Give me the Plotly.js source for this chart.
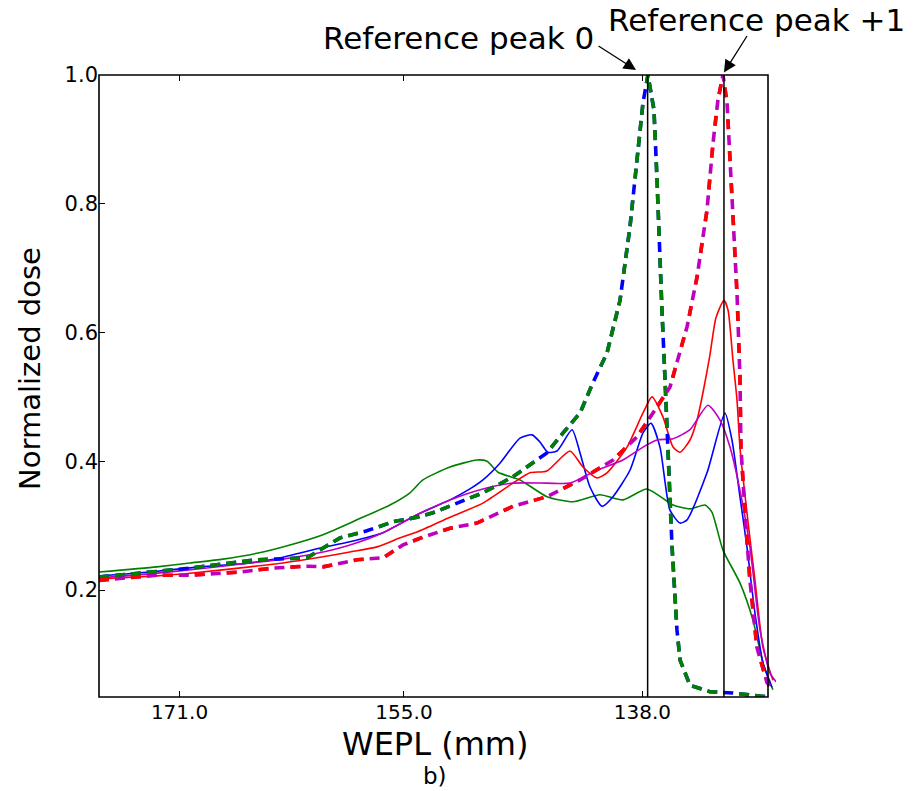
<!DOCTYPE html>
<html>
<head>
<meta charset="utf-8">
<script src="https://cdn.plot.ly/plotly-3.0.1.min.js"></script>
<style>html,body{margin:0;padding:0;background:#fff;}#chart{width:916px;height:791px;}</style>
</head>
<body>
<div id="chart"></div>
<script>
// ---- Data (WEPL in mm, normalized dose) ----
// Thin green solid
const greenSolidWepl = [176.74,172.61,170.25,167.90,165.48,163.13,160.77,158.35,156.00,154.57,153.65,151.72,149.80,149.08,148.30,146.73,144.81,142.95,141.03,139.39,137.68,135.82,134.61,133.54,133.05,132.26,131.05,130.12,129.41,128.70];
const greenSolidDose = [0.228,0.236,0.242,0.248,0.257,0.270,0.286,0.309,0.332,0.351,0.371,0.391,0.402,0.400,0.383,0.371,0.345,0.337,0.348,0.340,0.357,0.332,0.326,0.332,0.321,0.262,0.211,0.153,0.087,0.045];
// Thin blue solid
const blueSolidWepl = [176.74,173.10,169.54,165.98,163.63,161.20,158.85,156.50,154.07,151.72,150.30,149.37,148.16,146.73,145.87,145.31,144.74,144.09,143.02,142.45,141.74,140.88,140.10,138.89,137.96,137.39,136.75,136.04,135.32,134.82,133.40,132.12,131.62,131.05,130.55,129.98,129.41,128.77];
const blueSolidDose = [0.222,0.228,0.236,0.242,0.251,0.264,0.275,0.289,0.317,0.340,0.357,0.371,0.397,0.436,0.441,0.430,0.414,0.416,0.449,0.413,0.360,0.330,0.345,0.386,0.444,0.459,0.422,0.324,0.304,0.309,0.382,0.475,0.433,0.345,0.267,0.164,0.087,0.049];
// Thin magenta solid
const magentaSolidWepl = [176.74,173.10,169.54,165.98,163.63,161.20,158.85,156.50,154.07,151.72,149.37,147.23,144.81,143.17,141.24,139.39,137.96,136.97,135.82,134.61,133.33,132.47,131.76,131.05,130.34,129.62,128.91,128.41];
const magentaSolidDose = [0.219,0.225,0.233,0.242,0.248,0.257,0.270,0.289,0.317,0.340,0.357,0.366,0.366,0.366,0.386,0.402,0.422,0.433,0.435,0.449,0.487,0.464,0.422,0.355,0.267,0.138,0.071,0.056];
// Thin red solid
const redSolidWepl = [176.74,172.61,170.25,165.98,163.63,161.20,158.85,156.92,155.28,154.07,151.72,149.37,147.23,146.02,144.81,143.17,142.24,141.24,140.53,139.10,137.96,137.32,136.54,135.82,135.32,134.61,134.11,133.69,133.19,132.76,132.19,131.90,131.55,131.26,131.05,130.55,129.98,129.41,128.70];
const redSolidDose = [0.217,0.222,0.226,0.236,0.242,0.250,0.259,0.267,0.281,0.290,0.313,0.335,0.366,0.382,0.385,0.416,0.391,0.374,0.382,0.422,0.475,0.500,0.469,0.422,0.414,0.433,0.464,0.506,0.565,0.623,0.650,0.635,0.557,0.495,0.422,0.320,0.215,0.111,0.060];
// Thick dashed, reference peak 0 (blue and green drawn on top of each other)
const peak0Wepl = [176.74,170.25,165.48,161.91,159.56,157.64,155.78,154.07,152.93,151.22,149.37,147.23,144.81,143.66,142.45,141.53,140.53,139.60,138.89,138.39,137.96,137.61,137.18,136.97,136.82,136.61,136.40,136.18,135.89,135.54,135.32,134.61,133.19,131.55,129.12];
const peak0Dose = [0.220,0.234,0.247,0.250,0.281,0.292,0.306,0.313,0.320,0.335,0.351,0.376,0.413,0.444,0.475,0.522,0.568,0.650,0.764,0.868,0.957,1.000,0.946,0.842,0.739,0.635,0.531,0.422,0.267,0.138,0.091,0.052,0.042,0.040,0.034];
// Thick dashed, reference peak +1 (magenta and red drawn on top of each other)
const peak1Wepl = [176.74,172.61,170.25,166.69,164.34,161.91,160.77,158.35,156.50,155.07,153.65,151.72,149.80,148.16,147.23,144.81,142.45,140.10,138.39,137.25,136.04,134.82,134.11,133.40,132.97,132.62,132.26,131.97,131.76,131.55,131.26,131.05,130.98,130.69,130.34,129.84,129.12,128.70];
const peak1Dose = [0.215,0.223,0.223,0.228,0.234,0.237,0.236,0.247,0.250,0.270,0.282,0.296,0.304,0.320,0.330,0.345,0.371,0.402,0.438,0.475,0.515,0.609,0.686,0.790,0.894,0.961,1.000,0.957,0.868,0.764,0.661,0.531,0.422,0.320,0.215,0.111,0.056,0.045];

// Reference peak positions (vertical lines) and arrow tips
const refPeakWepl = [137.63, 132.19];
const refPeakLabels = ['Reference peak 0', 'Reference peak +1'];
const arrowTipWepl = [138.46, 132.19];

// Axes
const xRange = [176.74, 128.48];
const frameRightWepl = 129.05;
const yRange = [0.0338, 1.0];
const xTickVals = [171, 155, 138];
const xTickText = ['171.0', '155.0', '138.0'];
const yTickVals = [0.2, 0.4, 0.6, 0.8, 1.0];
const yTickText = ['0.2', '0.4', '0.6', '0.8', '1.0'];
const xTitle = 'WEPL (mm)';
const yTitle = 'Normalized dose';
const panelLabel = 'b)';

const FONT = 'DejaVu Sans, Bitstream Vera Sans, sans-serif';
const GREEN = '#008000', BLUE = '#0000ff', RED = '#ff0000', MAGENTA = '#bf00bf';

function solid(x, y, color) {
  return {x: x, y: y, type: 'scatter', mode: 'lines', line: {color: color, width: 1.6, shape: 'spline', smoothing: 0.6}, hoverinfo: 'skip'};
}
function dashed(x, y, color, dash) {
  return {x: x, y: y, type: 'scatter', mode: 'lines', line: {color: color, width: 3.6, dash: dash}, hoverinfo: 'skip'};
}

const traces = [
  solid(greenSolidWepl, greenSolidDose, GREEN),
  solid(blueSolidWepl, blueSolidDose, BLUE),
  solid(redSolidWepl, redSolidDose, RED),
  solid(magentaSolidWepl, magentaSolidDose, MAGENTA),
  dashed(peak0Wepl, peak0Dose, BLUE, '10px,6px'),
  dashed(peak0Wepl, peak0Dose, GREEN, '10px,6px,10px,6px,10px,6px,10px,6px,10px,22px'),
  dashed(peak1Wepl, peak1Dose, MAGENTA, '10px,6px'),
  dashed(peak1Wepl, peak1Dose, RED, '10px,22px')
];

const frameRightFrac = (frameRightWepl - xRange[0]) / (xRange[1] - xRange[0]);

const shapes = [
  {type: 'rect', xref: 'paper', yref: 'paper', x0: 0, x1: frameRightFrac, y0: 0, y1: 1, line: {color: 'black', width: 1.6}, layer: 'above'}
].concat(refPeakWepl.map(v => ({type: 'line', xref: 'x', yref: 'paper', x0: v, x1: v, y0: 0, y1: 1, line: {color: 'black', width: 1.5}, layer: 'above'})));

const arrowStyle = {showarrow: true, arrowhead: 2, arrowsize: 1.9, arrowwidth: 1.3, arrowcolor: 'black', text: '', axref: 'pixel', ayref: 'pixel'};
const annotations = [
  // label texts
  {xref: 'paper', yref: 'paper', x: 0.5303, y: 1.0595, text: refPeakLabels[0], showarrow: false, font: {family: FONT, size: 31, color: 'black'}, xanchor: 'center', yanchor: 'middle'},
  {xref: 'paper', yref: 'paper', x: 0.9705, y: 1.0884, text: refPeakLabels[1], showarrow: false, font: {family: FONT, size: 31, color: 'black'}, xanchor: 'center', yanchor: 'middle'},
  // arrows pointing to the reference peaks
  Object.assign({xref: 'x', yref: 'paper', x: arrowTipWepl[0], y: 1.008, ax: -39, ay: -25}, arrowStyle),
  Object.assign({xref: 'x', yref: 'paper', x: arrowTipWepl[1], y: 1.004, ax: 24, ay: -38}, arrowStyle),
  // axis titles and panel label
  {xref: 'paper', yref: 'paper', x: 0.4963, y: -0.0756, text: xTitle, showarrow: false, font: {family: FONT, size: 32, color: 'black'}, xanchor: 'center', yanchor: 'middle'},
  {xref: 'paper', yref: 'paper', x: -0.102, y: 0.529, text: yTitle, textangle: -90, showarrow: false, font: {family: FONT, size: 29, color: 'black'}, xanchor: 'center', yanchor: 'middle'},
  {xref: 'paper', yref: 'paper', x: 0.4963, y: -0.1511, text: panelLabel, showarrow: false, font: {family: FONT, size: 23, color: 'black'}, xanchor: 'center', yanchor: 'bottom'}
];

const layout = {
  width: 916, height: 791,
  margin: {l: 99, r: 140, t: 75, b: 94, pad: 0},
  paper_bgcolor: 'white', plot_bgcolor: 'white',
  showlegend: false,
  font: {family: FONT, color: 'black'},
  xaxis: {
    range: xRange, tickvals: xTickVals, ticktext: xTickText,
    ticks: 'inside', ticklen: 6, tickwidth: 1, tickcolor: 'black',
    showgrid: false, zeroline: false, showline: false, mirror: 'ticks',
    tickfont: {family: FONT, size: 20, color: 'black'}, ticklabelstandoff: 1,
    automargin: false
  },
  yaxis: {
    range: yRange, tickvals: yTickVals, ticktext: yTickText,
    ticks: 'inside', ticklen: 6, tickwidth: 1, tickcolor: 'black',
    showgrid: false, zeroline: false, showline: false,
    tickfont: {family: FONT, size: 21, color: 'black'}, ticklabelstandoff: 0,
    automargin: false
  },
  shapes: shapes,
  annotations: annotations
};

Plotly.newPlot('chart', traces, layout, {displayModeBar: false, staticPlot: true});
</script>
</body>
</html>
